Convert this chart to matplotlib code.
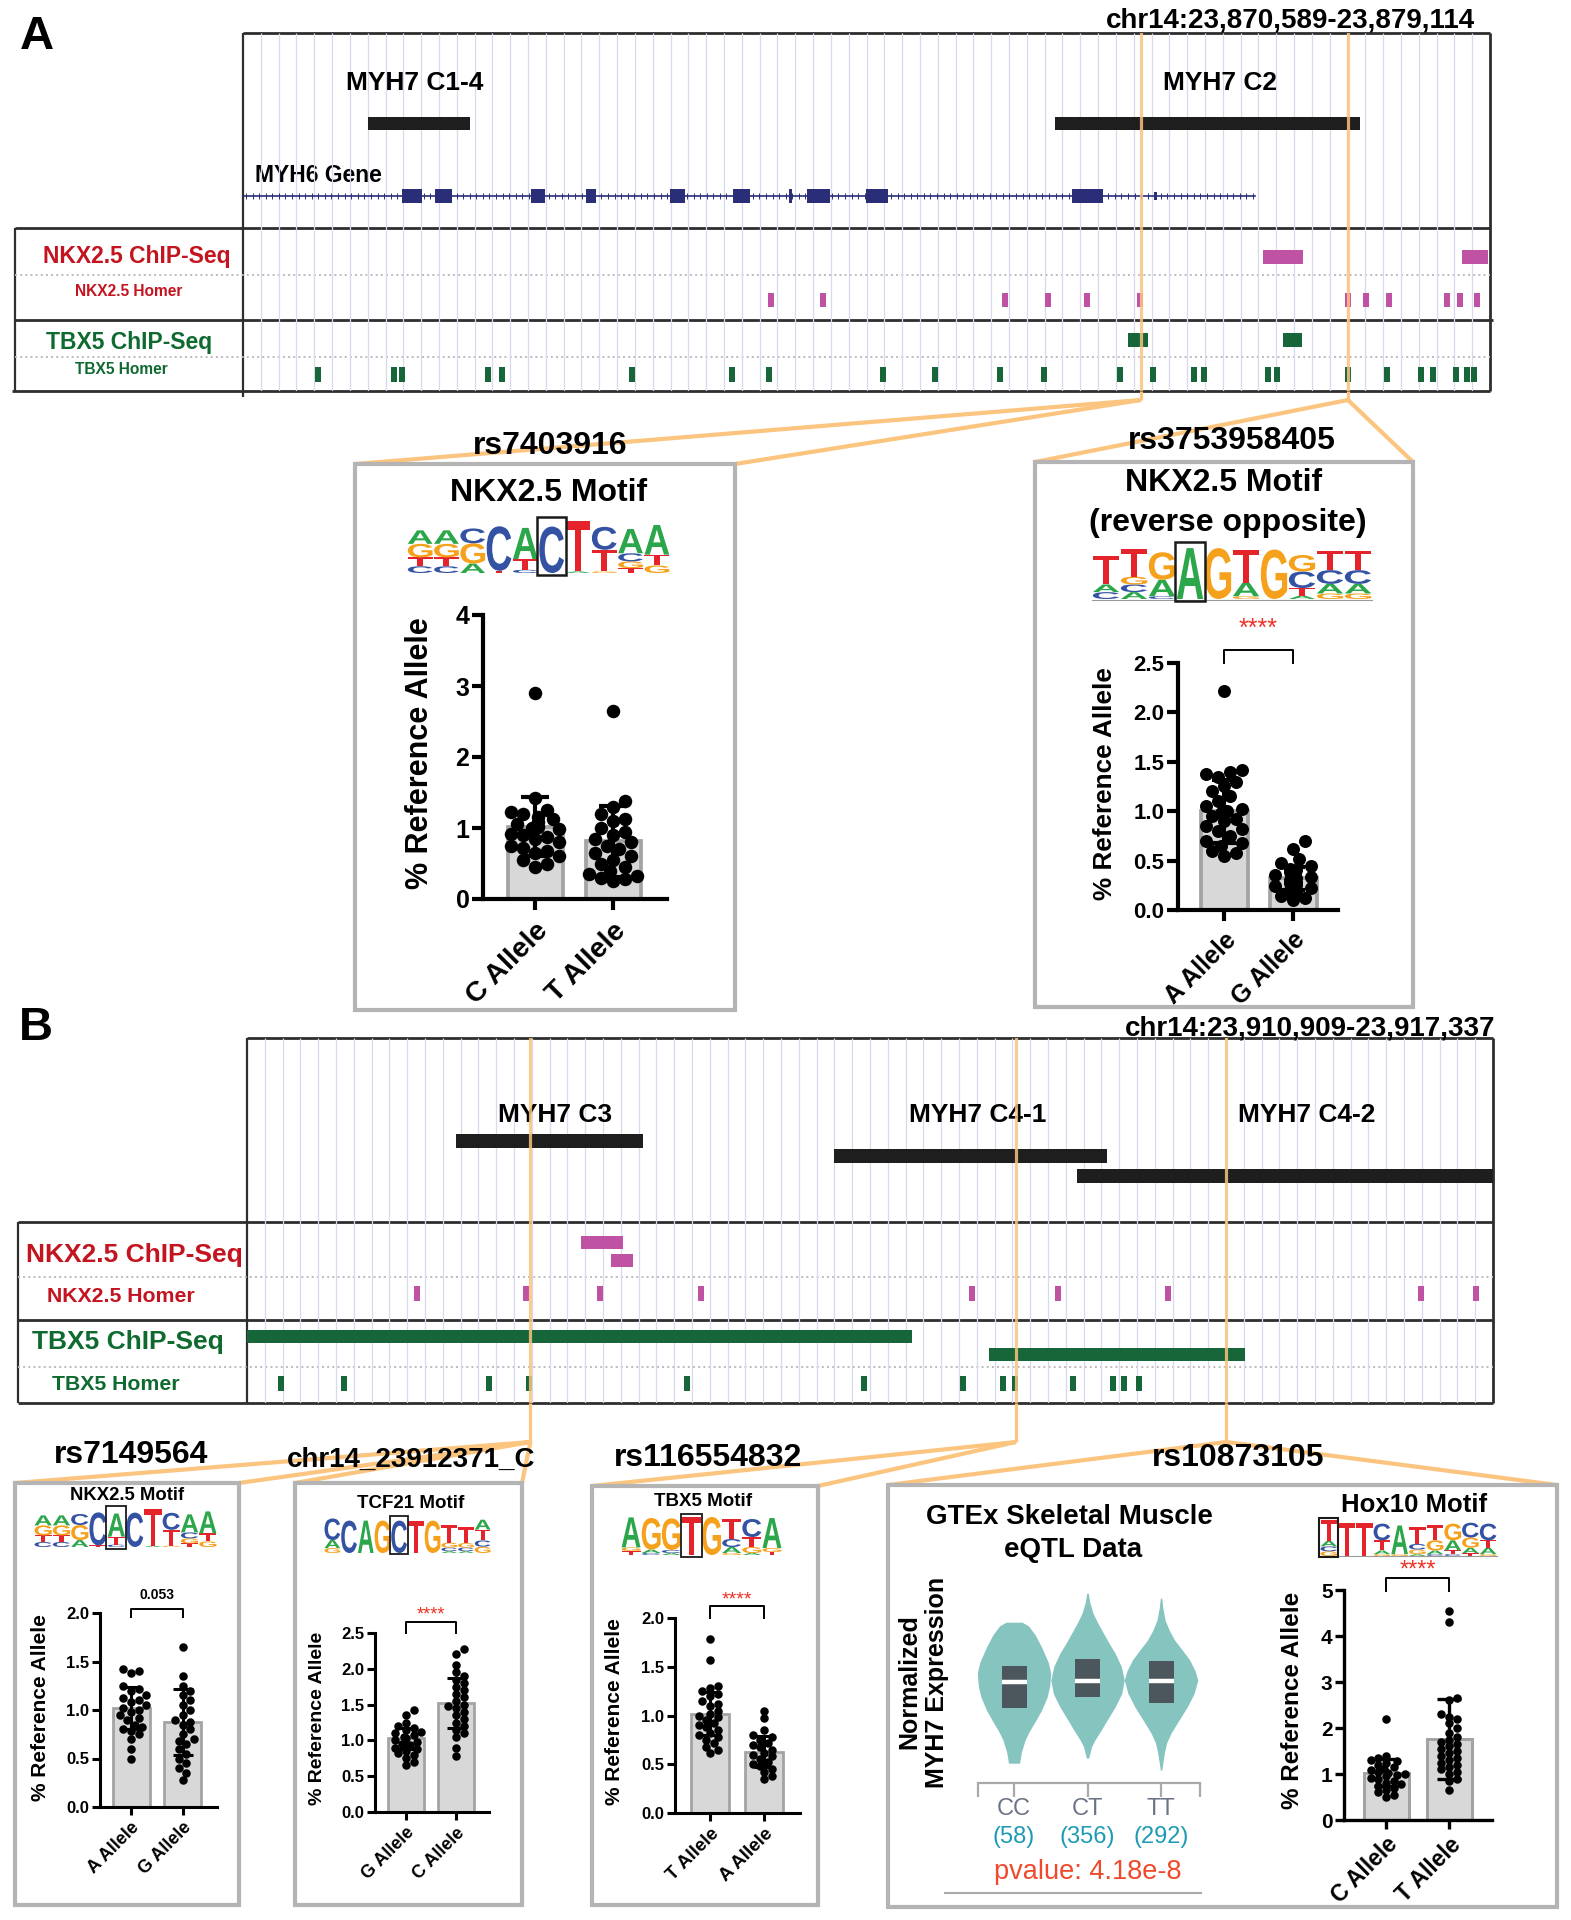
import numpy as np
import matplotlib
matplotlib.use("Agg")
import matplotlib.pyplot as plt
from matplotlib.patches import Rectangle, PathPatch
from matplotlib.textpath import TextPath
from matplotlib.font_manager import FontProperties
from matplotlib.transforms import Affine2D

plt.rcParams['font.family'] = ['Liberation Sans', 'DejaVu Sans']

W, H = 1571, 1920
ORANGE = '#fbc47f'
NKX_RED = '#c3141f'
TBX_GREEN = '#0f6a30'
MAGENTA = '#c052a4'
PEAK_GREEN = '#17663a'
NAVY = '#2a2d78'
GRID = '#d9d9ee'
BOX_GRAY = '#b4b4b4'
LINE = '#2e2e2e'

# ---------------- panel A browser (bp offsets from 23,870,589) ----------------
a_region = 'chr14:23,870,589-23,879,114'
a_len = 23879114 - 23870589
a_contig_names = ['MYH7 C1-4', 'MYH7 C2']
a_contigs = [(855, 1552), (5551, 7636)]
a_contig_label_bp = [1176, 6679]
myh6_span = (0, 6918)
myh6_exons = [(1087, 1224), (1313, 1429), (1969, 2064), (2345, 2413), (2919, 3022),
              (3350, 3466), (3732, 3753), (3856, 4013), (4259, 4409), (5667, 5879)]
myh6_small_exon = (6228, 6248)
a_nkx_chip = [(6973, 7246), (8333, 8511)]
a_nkx_homer = [3609, 3965, 5209, 5503, 5770, 6132, 7554, 7677, 7834, 8231, 8319, 8436]
a_tbx_chip = [(6050, 6187), (7109, 7239)]
a_tbx_homer = [513, 1035, 1085, 1675, 1771, 2659, 3343, 3596, 4375, 4731, 5175, 5476, 5995,
               6221, 6501, 6569, 7007, 7068, 7554, 7820, 8053, 8135, 8292, 8365, 8415]
a_snp_names = ['rs7403916', 'rs3753958405']
a_snp_bp = [6139, 7554]

# ---------------- panel B browser (bp offsets from 23,910,909) ----------------
b_region = 'chr14:23,910,909-23,917,337'
b_len = 23917337 - 23910909
b_contig_names = ['MYH7 C3', 'MYH7 C4-1', 'MYH7 C4-2']
b_contigs = [(1078, 2043), (3028, 4437), (4282, 6428)]
b_contig_label_bp = [1589, 3771, 5469]
b_nkx_chip = [(1723, 1940), (1878, 1991)]
b_nkx_homer = [877, 1439, 1821, 2342, 3740, 4184, 4751, 6057, 6340]
b_tbx_chip = [(0, 3431), (3828, 5149)]
b_tbx_homer = [175, 500, 1248, 1455, 2270, 3183, 3694, 3900, 3962, 4261, 4468, 4524, 4602]
b_snp_names = ['rs7149564', 'chr14_23912371_C', 'rs116554832', 'rs10873105']
b_snp_bp = [1458, 1462, 3967, 5052]

# ---------------- allele-specific reporter data ----------------
a1_labels = ['C Allele', 'T Allele']
a1_c = [2.9, 1.42, 1.25, 1.22, 1.2, 1.15, 1.12, 1.08, 1.05, 1.02, 1.0, 0.98, 0.95, 0.92,
        0.9, 0.88, 0.85, 0.8, 0.75, 0.72, 0.68, 0.65, 0.6, 0.55, 0.5, 0.45]
a1_t = [2.65, 1.38, 1.3, 1.2, 1.12, 1.1, 1.0, 0.95, 0.9, 0.85, 0.8, 0.75, 0.7, 0.65, 0.6,
        0.55, 0.5, 0.45, 0.4, 0.35, 0.32, 0.3, 0.28, 0.25]
a1_mean = [1.02, 0.81]
a1_sd = [0.42, 0.5]

a2_labels = ['A Allele', 'G Allele']
a2_a = [2.22, 1.42, 1.4, 1.38, 1.35, 1.3, 1.25, 1.2, 1.15, 1.1, 1.05, 1.02, 1.0, 0.98, 0.95,
        0.92, 0.9, 0.85, 0.82, 0.8, 0.75, 0.7, 0.68, 0.65, 0.6, 0.58, 0.55]
a2_g = [0.7, 0.62, 0.52, 0.48, 0.45, 0.42, 0.4, 0.38, 0.35, 0.33, 0.32, 0.3, 0.28, 0.27,
        0.25, 0.24, 0.22, 0.2, 0.18, 0.16, 0.14, 0.12, 0.1]
a2_mean = [1.0, 0.32]
a2_sd = [0.32, 0.12]

b1_labels = ['A Allele', 'G Allele']
b1_a = [1.42, 1.4, 1.38, 1.25, 1.22, 1.2, 1.15, 1.12, 1.1, 1.08, 1.05, 1.02, 1.0, 0.98, 0.95,
        0.92, 0.9, 0.85, 0.82, 0.8, 0.78, 0.75, 0.7, 0.6, 0.5]
b1_g = [1.65, 1.35, 1.25, 1.2, 1.15, 1.1, 1.05, 1.0, 0.95, 0.9, 0.88, 0.85, 0.8, 0.75, 0.7,
        0.68, 0.65, 0.6, 0.55, 0.5, 0.45, 0.4, 0.35, 0.28]
b1_mean = [1.02, 0.88]
b1_sd = [0.22, 0.34]

b2_labels = ['G Allele', 'C Allele']
b2_g = [1.42, 1.35, 1.25, 1.2, 1.18, 1.15, 1.12, 1.1, 1.08, 1.05, 1.03, 1.0, 0.98, 0.95,
        0.93, 0.9, 0.88, 0.85, 0.82, 0.8, 0.75, 0.7, 0.65]
b2_c = [2.27, 2.2, 2.05, 1.95, 1.9, 1.85, 1.8, 1.75, 1.7, 1.65, 1.6, 1.55, 1.5, 1.48, 1.45,
        1.4, 1.35, 1.3, 1.25, 1.2, 1.15, 1.1, 1.05, 0.9, 0.78]
b2_mean = [1.03, 1.52]
b2_sd = [0.15, 0.35]

b3_labels = ['T Allele', 'A Allele']
b3_t = [1.78, 1.57, 1.3, 1.28, 1.25, 1.22, 1.2, 1.15, 1.12, 1.1, 1.05, 1.02, 1.0, 0.98, 0.95,
        0.92, 0.9, 0.88, 0.85, 0.82, 0.8, 0.78, 0.75, 0.72, 0.68, 0.65, 0.62]
b3_a = [1.05, 0.97, 0.85, 0.8, 0.78, 0.75, 0.72, 0.7, 0.68, 0.65, 0.62, 0.6, 0.58, 0.55,
        0.52, 0.5, 0.48, 0.45, 0.42, 0.38, 0.35]
b3_mean = [1.02, 0.63]
b3_sd = [0.22, 0.16]

b4_labels = ['C Allele', 'T Allele']
b4_c = [2.2, 1.4, 1.35, 1.3, 1.28, 1.25, 1.2, 1.15, 1.1, 1.08, 1.05, 1.02, 1.0, 0.98, 0.95,
        0.92, 0.9, 0.85, 0.8, 0.78, 0.75, 0.7, 0.65, 0.6, 0.55, 0.5]
b4_t = [4.55, 4.3, 2.65, 2.6, 2.3, 2.25, 2.2, 2.1, 2.0, 1.9, 1.8, 1.75, 1.7, 1.65, 1.6, 1.55,
        1.5, 1.45, 1.4, 1.35, 1.3, 1.25, 1.2, 1.15, 1.1, 1.05, 1.0, 0.9, 0.85, 0.65]
b4_mean = [1.03, 1.76]
b4_sd = [0.3, 0.86]

# ---------------- GTEx eQTL violins ----------------
gtex_genotypes = ['CC', 'CT', 'TT']
gtex_n = [58, 356, 292]
gtex_pvalue = 'pvalue: 4.18e-8'
cc_v = [1.93, 1.8, 1.5, 1.1, 0.6, 0.23, -0.2, -0.57, -1.0, -1.33, -1.7, -2.0, -2.4, -2.77]
cc_w = [0.22, 0.4, 0.58, 0.75, 0.93, 1.0, 0.97, 0.9, 0.75, 0.6, 0.42, 0.3, 0.2, 0.15]
ct_v = [2.9, 2.6, 2.23, 1.9, 1.57, 1.2, 0.9, 0.45, 0.0, -0.45, -0.9, -1.3, -1.67, -2.0, -2.22, -2.6]
ct_w = [0.02, 0.06, 0.15, 0.28, 0.43, 0.6, 0.75, 0.92, 1.0, 0.93, 0.75, 0.55, 0.37, 0.2, 0.11, 0.03]
tt_v = [2.73, 2.4, 2.0, 1.67, 1.33, 1.0, 0.67, 0.3, 0.0, -0.45, -0.9, -1.35, -1.77, -2.1, -2.43, -3.0]
tt_w = [0.02, 0.05, 0.11, 0.22, 0.37, 0.58, 0.78, 0.93, 1.0, 0.9, 0.71, 0.48, 0.27, 0.15, 0.09, 0.02]
gtex_quartiles = [(-0.93, -0.07, 0.47), (-0.57, -0.03, 0.70), (-0.77, -0.03, 0.63)]

# ---------------- motif logos (bottom -> top, bits) ----------------
nkx_logo = [
    [('C', .25), ('T', .33), ('G', .5), ('A', .5)],
    [('C', .25), ('T', .33), ('G', .5), ('A', .5)],
    [('A', .35), ('G', .75), ('C', .55)],
    [('T', .08), ('C', 1.65)],
    [('C', .12), ('T', .4), ('A', 1.15)],
    [('C', 1.72)],
    [('A', .06), ('T', 1.85)],
    [('G', .06), ('T', .8), ('C', .85)],
    [('T', .18), ('G', .25), ('C', .3), ('A', .9)],
    [('G', .28), ('T', .4), ('A', 1.1)],
]
nkx_rev_logo = [
    [('C', .25), ('A', .28), ('T', 1.05)],
    [('A', .25), ('C', .28), ('G', .28), ('T', 1.0)],
    [('C', .1), ('A', .6), ('G', 1.0)],
    [('A', 1.85)],
    [('G', 1.85)],
    [('G', .1), ('A', .5), ('T', 1.2)],
    [('G', 1.8)],
    [('A', .12), ('T', .28), ('C', .6), ('G', .6)],
    [('G', .2), ('A', .35), ('C', .5), ('T', .7)],
    [('G', .2), ('A', .35), ('C', .5), ('T', .7)],
]
tcf21_logo = [
    [('G', .27), ('A', .45), ('C', 1.2)],
    [('C', 1.8)], [('A', 1.8)], [('G', 1.8)], [('C', 1.8)], [('T', 1.8)], [('G', 1.8)],
    [('A', .1), ('C', .2), ('G', .27), ('T', 1.0)],
    [('A', .1), ('C', .2), ('G', .25), ('T', .9)],
    [('G', .35), ('C', .35), ('T', .6), ('A', .55)],
]
tbx5_logo = [
    [('T', .2), ('G', .18), ('A', 1.5)],
    [('C', .1), ('A', .17), ('G', 1.58)],
    [('A', .1), ('C', .15), ('G', 1.58)],
    [('T', 1.9)], [('G', 1.9)],
    [('G', .1), ('A', .3), ('C', .4), ('T', 1.0)],
    [('A', .1), ('G', .3), ('T', .5), ('C', .9)],
    [('T', .15), ('G', .2), ('A', 1.5)],
]
hox10_logo = [
    [('G', .25), ('C', .27), ('A', .3), ('T', 1.1)],
    [('T', 1.8)], [('T', 1.8)],
    [('G', .1), ('A', .2), ('T', .55), ('C', .9)],
    [('G', .1), ('A', 1.55)],
    [('A', .1), ('G', .25), ('C', .3), ('T', .9)],
    [('C', .1), ('A', .2), ('G', .55), ('T', .8)],
    [('C', .1), ('T', .2), ('A', .55), ('G', .9)],
    [('T', .15), ('A', .3), ('G', .55), ('C', .8)],
    [('G', .1), ('A', .35), ('T', .4), ('C', .9)],
]

# =====================================================================
fig = plt.figure(figsize=(W / 100, H / 100), dpi=100)
canvas = fig.add_axes([0, 0, 1, 1], zorder=0)
canvas.set_xlim(0, W)
canvas.set_ylim(H, 0)
canvas.axis('off')


def px_axes(x0, y0, x1, y1, z=2):
    ax = fig.add_axes([x0 / W, 1 - y1 / H, (x1 - x0) / W, (y1 - y0) / H], zorder=z)
    ax.patch.set_alpha(0)
    return ax


def to_canvas(ax, x, y):
    return canvas.transData.inverted().transform(ax.transData.transform((x, y)))


def cline(xs, ys, color=LINE, lw=1.8, ls='-', z=1):
    canvas.plot(xs, ys, color=color, lw=lw, ls=ls, zorder=z, solid_capstyle='butt')


def ctext(x, y, s, fs, color='black', weight='bold', **kw):
    kw.setdefault('ha', 'center')
    kw.setdefault('va', 'center')
    canvas.text(x, y, s, fontsize=fs, color=color, fontweight=weight, zorder=5, **kw)


def feat(ax, s, e, y0, y1, color, z=2):
    ax.add_patch(Rectangle((s, y0), e - s, y1 - y0, facecolor=color, lw=0, zorder=z))


def browser(x0, y0, x1, y1, length):
    ax = px_axes(x0, y0, x1, y1, 1)
    ax.set_xlim(0, length)
    ax.set_ylim(y1, y0)
    ax.axis('off')
    ax.vlines(np.linspace(0, length, 71)[1:-1], y0, y1, color=GRID, lw=0.9, zorder=0)
    return ax


# ---------------- panel A browser ----------------
ctext(37, 37, 'A', 34)
ctext(1475, 21, a_region, 20, ha='right')
axA = browser(243, 33, 1490, 391, a_len)
for (s, e), name, lx in zip(a_contigs, a_contig_names, a_contig_label_bp):
    feat(axA, s, e, 117, 130, '#1e1e1e')
    axA.text(lx, 83, name, ha='center', va='center', fontsize=19, fontweight='bold')
chevrons = np.arange(myh6_span[0] + 20, myh6_span[1], 45)
axA.plot(myh6_span, [196, 196], color=NAVY, lw=1.2, zorder=2)
axA.plot(chevrons, np.full(len(chevrons), 196), ls='none', marker='|', ms=5, mew=0.7,
         color=NAVY, zorder=2)
for s, e in myh6_exons:
    feat(axA, s, e, 189, 203, NAVY, 3)
feat(axA, myh6_small_exon[0], myh6_small_exon[1], 192, 200, NAVY, 3)
for s, e in a_nkx_chip:
    feat(axA, s, e, 250, 264, MAGENTA)
for c in a_nkx_homer:
    feat(axA, c - 19, c + 19, 293, 307, MAGENTA)
for s, e in a_tbx_chip:
    feat(axA, s, e, 333, 347, PEAK_GREEN)
for c in a_tbx_homer:
    feat(axA, c - 21, c + 21, 367, 382, PEAK_GREEN)
for bp in a_snp_bp:
    axA.axvline(bp, color=ORANGE, lw=2.3, alpha=0.85, zorder=4)
ctext(255, 175, 'MYH6 Gene', 16.5, ha='left')

cline([243, 1490], [33, 33], lw=2)
cline([1490, 1490], [33, 391], lw=2)
cline([243, 243], [33, 397], lw=1.6)
cline([15, 1490], [228, 228], lw=2)
cline([15, 15], [228, 391], lw=1.6)
cline([15, 1490], [275, 275], color='#bbbbbb', lw=1.4, ls=':')
cline([15, 1490], [357, 357], color='#bbbbbb', lw=1.4, ls=':')
cline([15, 1493], [320, 320], lw=2)
cline([12, 1490], [391, 391], lw=2)
ctext(137, 257, 'NKX2.5 ChIP-Seq', 16.5, NKX_RED)
ctext(129, 291, 'NKX2.5 Homer', 11.2, NKX_RED)
ctext(129, 343, 'TBX5 ChIP-Seq', 16.5, TBX_GREEN)
ctext(121, 370, 'TBX5 Homer', 11.2, TBX_GREEN)

# ---------------- panel B browser ----------------
ctext(36, 1028, 'B', 34)
ctext(1495, 1028, b_region, 20, ha='right')
axB = browser(247, 1038, 1493, 1403, b_len)
for (s, e), name, lx, y in zip(b_contigs, b_contig_names, b_contig_label_bp, [1134, 1149, 1169]):
    feat(axB, s, min(e, b_len), y, y + 14, '#1e1e1e')
    axB.text(lx, 1115, name, ha='center', va='center', fontsize=19, fontweight='bold')
for i, (s, e) in enumerate(b_nkx_chip):
    feat(axB, s, e, 1236 + 18 * i, 1249 + 18 * i, MAGENTA)
for c in b_nkx_homer:
    feat(axB, c - 14, c + 14, 1286, 1301, MAGENTA)
for i, (s, e) in enumerate(b_tbx_chip):
    feat(axB, s, e, 1330 + 18 * i, 1343 + 18 * i, PEAK_GREEN)
for c in b_tbx_homer:
    feat(axB, c - 14, c + 14, 1376, 1391, PEAK_GREEN)
for bp in sorted(set([b_snp_bp[0], b_snp_bp[2], b_snp_bp[3]])):
    axB.axvline(bp, color=ORANGE, lw=2.3, alpha=0.85, zorder=4)

cline([247, 1493], [1038, 1038], lw=2)
cline([1493, 1493], [1038, 1403], lw=2)
cline([247, 247], [1038, 1403], lw=1.6)
cline([18, 1493], [1222, 1222], lw=2)
cline([18, 18], [1222, 1403], lw=1.6)
cline([18, 1493], [1277, 1277], color='#bbbbbb', lw=1.4, ls=':')
cline([18, 1493], [1367, 1367], color='#bbbbbb', lw=1.4, ls=':')
cline([18, 1493], [1320, 1320], lw=2)
cline([18, 1493], [1403, 1403], lw=2)
ctext(134, 1255, 'NKX2.5 ChIP-Seq', 19, NKX_RED)
ctext(121, 1297, 'NKX2.5 Homer', 15.3, NKX_RED)
ctext(128, 1342, 'TBX5 ChIP-Seq', 19, TBX_GREEN)
ctext(116, 1384, 'TBX5 Homer', 15.3, TBX_GREEN)

# ---------------- boxes and connectors ----------------
boxes = {
    'a1': (355, 464, 735, 1010), 'a2': (1035, 462, 1413, 1007),
    'b1': (15, 1483, 239, 1905), 'b2': (295, 1483, 522, 1905),
    'b3': (592, 1486, 818, 1905), 'b4': (888, 1485, 1557, 1907),
}
for x0, y0, x1, y1 in boxes.values():
    canvas.add_patch(Rectangle((x0, y0), x1 - x0, y1 - y0, facecolor='white',
                               edgecolor=BOX_GRAY, lw=3, zorder=2))


def connect(ax, bp, y_from, y_join, box_keys):
    x = to_canvas(ax, bp, y_from)[0]
    cline([x, x], [y_from, y_join], color=ORANGE, lw=2.3, z=1)
    for k in box_keys:
        x0, y0, x1, _ = boxes[k]
        cline([x, x0], [y_join, y0], color=ORANGE, lw=3, z=1)
        cline([x, x1], [y_join, y0], color=ORANGE, lw=3, z=1)


connect(axA, a_snp_bp[0], 391, 400, ['a1'])
connect(axA, a_snp_bp[1], 391, 400, ['a2'])
connect(axB, b_snp_bp[1], 1403, 1442, ['b1', 'b2'])
connect(axB, b_snp_bp[2], 1403, 1442, ['b3'])
connect(axB, b_snp_bp[3], 1403, 1442, ['b4'])

ctext(550, 446, a_snp_names[0], 23)
ctext(1232, 441, a_snp_names[1], 23)
ctext(131, 1455, b_snp_names[0], 23)
ctext(411, 1460, b_snp_names[1], 20)
ctext(708, 1458, b_snp_names[2], 23)
ctext(1238, 1458, b_snp_names[3], 23)

# ---------------- motif logos ----------------
LOGO_FONT = FontProperties(family='Liberation Sans', weight='bold')
LOGO_COL = {'A': '#2ca64b', 'C': '#3452a3', 'G': '#f5a11c', 'T': '#e4232b'}
_glyphs = {}


def letter(ax, ch, x, y, w, h):
    if ch not in _glyphs:
        _glyphs[ch] = TextPath((0, 0), ch, size=1, prop=LOGO_FONT)
    p = _glyphs[ch]
    bb = p.get_extents()
    t = Affine2D().translate(-bb.x0, -bb.y0).scale(w * 0.94 / bb.width, h / bb.height).translate(x + w * 0.03, y)
    ax.add_patch(PathPatch(t.transform_path(p), facecolor=LOGO_COL[ch], lw=0, clip_on=False))


def logo(rect, stacks, boxed, box_lw, baseline=False):
    ax = px_axes(*rect, z=3)
    ax.set_xlim(0, len(stacks))
    ax.set_ylim(0, 2)
    ax.axis('off')
    for i, stack in enumerate(stacks):
        y = 0
        for ch, h in stack:
            letter(ax, ch, i, y, 1, h)
            y += h
    ax.add_patch(Rectangle((boxed - 0.04, -0.08), 1.08, 2.14, fill=False, edgecolor='#1a1a1a',
                           lw=box_lw, clip_on=False, zorder=5))
    if baseline:
        ax.plot([0, len(stacks)], [-0.02, -0.02], color='#9a9a9a', lw=0.8, clip_on=False)


ctext(549, 493, 'NKX2.5 Motif', 23)
logo((407, 519, 670, 573), nkx_logo, 5, 1.8)
ctext(1224, 483, 'NKX2.5 Motif', 23)
ctext(1228, 523, '(reverse opposite)', 23)
logo((1092, 544, 1372, 599), nkx_rev_logo, 3, 1.8, baseline=True)
ctext(127, 1495, 'NKX2.5 Motif', 13.3)
logo((34, 1507, 217, 1547), nkx_logo, 4, 1.3)
ctext(411, 1503, 'TCF21 Motif', 13.5)
logo((324, 1517, 491, 1553), tcf21_logo, 4, 1.3)
ctext(703, 1502, 'TBX5 Motif', 13.5)
logo((621, 1515, 782, 1555), tbx5_logo, 3, 1.3)
ctext(1414, 1505, 'Hox10 Motif', 18.5)
logo((1320, 1519, 1497, 1556), hox10_logo, 0, 1.5, baseline=True)


# ---------------- bar + dot plots ----------------
def swarm(vals, d, ypx, maxw):
    offs = np.zeros(len(vals))
    placed = []
    cands = [0.0]
    for j in range(1, 14):
        cands += [j * d * 0.45, -j * d * 0.45]
    for k in np.argsort(vals):
        y = vals[k] * ypx
        best = None
        for c in cands:
            if abs(c) > maxw / 2:
                continue
            if all((c - px_) ** 2 + (y - py) ** 2 >= (d * 0.8) ** 2 for px_, py in placed):
                best = c
                break
        if best is None:
            best = cands[len(placed) % 2 + 1] * 0.5
        offs[k] = best
        placed.append((best, y))
    return offs


def allele_plot(px, centers, bar_w, ymax, yticks, yfmt, xlabels, groups, means, sds,
                fs_tick, fs_x, dot, lw, ylab_xy, fs_ylab, xpad, sig=None):
    x0, y0, x1, y1 = px
    ax = px_axes(x0, y0, x1, y1, 3)
    unit = centers[1] - centers[0]
    ax.set_xlim(-(centers[0] - x0) / unit, (x1 - centers[0]) / unit)
    ax.set_ylim(0, ymax)
    ypx = (y1 - y0) / ymax
    ax.bar([0, 1], means, width=(bar_w - 3) / unit, color='#d8d8d8', edgecolor='#a3a3a3',
           linewidth=lw * 0.9, zorder=1)
    for i, vals in enumerate(groups):
        vals = np.asarray(vals, float)
        offs = swarm(vals, dot, ypx, bar_w * 0.9) / unit
        ax.scatter(i + offs, vals, s=(dot * 0.72) ** 2, color='black', lw=0, zorder=3, clip_on=False)
    ax.errorbar([0, 1], means, yerr=sds, fmt='none', ecolor='black', elinewidth=lw,
                capsize=bar_w * 0.24 * 0.72, capthick=lw, zorder=4)
    for s in ('top', 'right'):
        ax.spines[s].set_visible(False)
    for s in ('left', 'bottom'):
        ax.spines[s].set_linewidth(lw)
        ax.spines[s].set_capstyle('projecting')
    ax.set_yticks(yticks)
    ax.set_yticklabels([yfmt.format(t) for t in yticks])
    ax.set_xticks([0, 1])
    ax.set_xticklabels(xlabels, rotation=45, ha='right', rotation_mode='anchor')
    ax.tick_params(width=lw, length=lw * 2.6, labelsize=fs_tick, pad=2)
    ax.tick_params(axis='x', labelsize=fs_x, pad=xpad)
    for t in ax.get_xticklabels() + ax.get_yticklabels():
        t.set_fontweight('bold')
    ctext(ylab_xy[0], ylab_xy[1], '% Reference Allele', fs_ylab, rotation=90)
    if sig:
        text, color, fs, weight, top, leg, ty = sig
        ax.plot([0, 0, 1, 1], [leg, top, top, leg], color='black', lw=1.4, clip_on=False)
        k = 0.6 if text.startswith('*') else 0.36
        ax.annotate(text, (0.5, ty), xytext=(0, -k * fs * 100 / 72), textcoords='offset pixels',
                    ha='center', va='baseline', color=color, fontsize=fs, fontweight=weight,
                    annotation_clip=False)
    return ax


STAR = '#ee3124'
allele_plot((483, 615, 667, 899), (535, 613), 58, 4, [0, 1, 2, 3, 4], '{:.0f}', a1_labels,
            [a1_c, a1_t], a1_mean, a1_sd, 18, 20.5, 13.5, 3.0, (420, 753), 22, 6)
allele_plot((1178, 663, 1338, 910), (1224, 1293), 50, 2.5, [0, 0.5, 1, 1.5, 2, 2.5], '{:.1f}',
            a2_labels, [a2_a, a2_g], a2_mean, a2_sd, 16, 18, 13, 3.0, (1105, 784), 18.8, 5,
            sig=('****', STAR, 18, 'normal', 2.63, 2.5, 2.93))
allele_plot((100, 1613, 217, 1807), (131, 182.5), 40, 2.0, [0, 0.5, 1, 1.5, 2], '{:.1f}',
            b1_labels, [b1_a, b1_g], b1_mean, b1_sd, 12, 13, 8.5, 2.2, (41, 1708), 15, 3,
            sig=('0.053', 'black', 10, 'bold', 2.04, 1.96, 2.2))
allele_plot((375, 1633, 489, 1812), (406, 456), 38.6, 2.5, [0, 0.5, 1, 1.5, 2, 2.5], '{:.1f}',
            b2_labels, [b2_g, b2_c], b2_mean, b2_sd, 12, 13, 8.5, 2.2, (318, 1718), 14, 3,
            sig=('****', STAR, 13, 'normal', 2.65, 2.5, 2.84))
allele_plot((675, 1618, 800, 1813), (710, 764), 41, 2.0, [0, 0.5, 1, 1.5, 2], '{:.1f}',
            b3_labels, [b3_t, b3_a], b3_mean, b3_sd, 12, 13.5, 8.5, 2.2, (615, 1712), 15, 3,
            sig=('****', STAR, 14, 'normal', 2.12, 2.0, 2.26))
allele_plot((1344, 1590, 1492, 1820), (1386, 1449), 48, 5, [0, 1, 2, 3, 4, 5], '{:.0f}',
            b4_labels, [b4_c, b4_t], b4_mean, b4_sd, 15, 16.5, 8.5, 2.4, (1293, 1700), 17.5, 3,
            sig=('****', STAR, 17, 'normal', 5.26, 4.98, 5.59))

# ---------------- GTEx violin panel ----------------
ctext(1069, 1517, 'GTEx Skeletal Muscle', 20)
ctext(1073, 1550, 'eQTL Data', 20)
ctext(923, 1682, 'Normalized\nMYH7 Expression', 18, rotation=90, multialignment='center')
axV = px_axes(978, 1585, 1200, 1783, 3)
axV.set_xlim(-0.49, 2.53)
axV.set_ylim(-3.43, 3.17)
for i, (v, w) in enumerate([(cc_v, cc_w), (ct_v, ct_w), (tt_v, tt_w)]):
    v = np.asarray(v)
    w = np.asarray(w)
    axV.fill_betweenx(v, i - 0.5 * w, i + 0.5 * w, color='#86c4c0', lw=0, zorder=1)
    q1, med, q3 = gtex_quartiles[i]
    axV.add_patch(Rectangle((i - 0.17, q1), 0.34, q3 - q1, facecolor='#4b575d', lw=0, zorder=3))
    axV.plot([i - 0.17, i + 0.17], [med, med], color='white', lw=3.2, zorder=4,
             solid_capstyle='butt')
for s in ('top', 'right', 'left'):
    axV.spines[s].set_visible(False)
axV.spines['bottom'].set_color('#a9a9a9')
axV.spines['bottom'].set_linewidth(1.6)
axV.set_yticks([])
axV.set_xticks([-0.49, 0, 1, 2, 2.53])
axV.set_xticklabels([''] + gtex_genotypes + [''])
axV.tick_params(axis='x', length=10, width=1.6, color='#a9a9a9', labelsize=17,
                labelcolor='#6b7385', pad=1)
for i, n in enumerate(gtex_n):
    axV.annotate(f'({n})', (i, 0), xycoords=('data', 'axes fraction'), xytext=(0, -54),
                 textcoords='offset pixels', ha='center', va='center', fontsize=17,
                 color='#1e9bb4', annotation_clip=False)
axV.annotate(gtex_pvalue, (1, 0), xycoords=('data', 'axes fraction'), xytext=(0, -89),
             textcoords='offset pixels', ha='center', va='center', fontsize=19.5,
             color='#ee4a2b', annotation_clip=False)
cline([944, 1202], [1893, 1893], color='#a9a9a9', lw=1.5, z=3)

fig.savefig('out.png', dpi=100)
